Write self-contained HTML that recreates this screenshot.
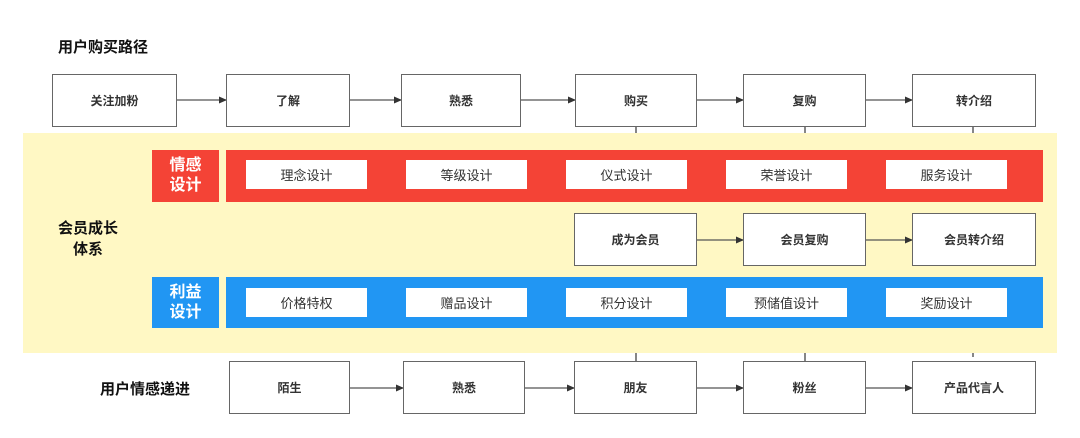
<!DOCTYPE html>
<html><head><meta charset="utf-8"><style>
body{margin:0;width:1080px;height:438px;background:#fff;position:relative;overflow:hidden;font-family:"Liberation Sans","Noto Sans CJK SC",sans-serif;}
.a{position:absolute;box-sizing:border-box;display:flex;align-items:center;justify-content:center;}
.b{border:1.5px solid #666;background:#fff;font-size:12px;font-weight:bold;color:#333;}
.w{background:#fff;font-size:13px;color:#333;}
.t{font-weight:bold;color:#111;font-size:15px;}
.lab{color:#fff;font-weight:bold;font-size:16px;line-height:20px;text-align:center;}
svg{position:absolute;left:0;top:0;}
</style></head><body>
<div class="a" style="left:23px;top:133px;width:1034px;height:220px;background:#fff8c4"></div>
<div class="a t" style="left:58px;top:36px;">用户购买路径</div>
<div class="a t" style="left:50px;top:218px;width:76px;text-align:center;line-height:21px;">会员成长<br>体系</div>
<div class="a t" style="left:100px;top:378px;">用户情感递进</div>

<div class="a lab" style="left:152px;top:150px;width:67px;height:52px;background:#f44336">情感<br>设计</div>
<div class="a" style="left:226px;top:150px;width:817px;height:52px;background:#f44336"></div>
<div class="a lab" style="left:152px;top:277px;width:67px;height:51px;background:#2196f3">利益<br>设计</div>
<div class="a" style="left:226px;top:277px;width:817px;height:51px;background:#2196f3"></div>

<div class="a w" style="left:246px;top:160px;width:121px;height:29px">理念设计</div>
<div class="a w" style="left:406px;top:160px;width:121px;height:29px">等级设计</div>
<div class="a w" style="left:566px;top:160px;width:121px;height:29px">仪式设计</div>
<div class="a w" style="left:726px;top:160px;width:121px;height:29px">荣誉设计</div>
<div class="a w" style="left:886px;top:160px;width:121px;height:29px">服务设计</div>

<div class="a w" style="left:246px;top:288px;width:121px;height:29px">价格特权</div>
<div class="a w" style="left:406px;top:288px;width:121px;height:29px">赠品设计</div>
<div class="a w" style="left:566px;top:288px;width:121px;height:29px">积分设计</div>
<div class="a w" style="left:726px;top:288px;width:121px;height:29px">预储值设计</div>
<div class="a w" style="left:886px;top:288px;width:121px;height:29px">奖励设计</div>

<svg width="1080" height="438">
<defs><marker id="m" markerWidth="8" markerHeight="8" refX="7" refY="4" orient="auto" markerUnits="userSpaceOnUse"><path d="M0,0.5 L8,4 L0,7.5z" fill="#333"/></marker></defs>
<g stroke="#555" stroke-width="1.3" fill="none" marker-end="url(#m)">
<line x1="177" y1="100" x2="226" y2="100"/>
<line x1="350" y1="100" x2="401" y2="100"/>
<line x1="521" y1="100" x2="575" y2="100"/>
<line x1="697" y1="100" x2="743" y2="100"/>
<line x1="866" y1="100" x2="912" y2="100"/>
<line x1="697" y1="240" x2="743" y2="240"/>
<line x1="866" y1="240" x2="912" y2="240"/>
<line x1="350" y1="388" x2="403" y2="388"/>
<line x1="525" y1="388" x2="574" y2="388"/>
<line x1="697" y1="388" x2="743" y2="388"/>
<line x1="866" y1="388" x2="912" y2="388"/>
</g>
<g stroke="#444" stroke-width="1.3">
<line x1="636" y1="127" x2="636" y2="133"/><line x1="805" y1="127" x2="805" y2="133"/><line x1="973" y1="127" x2="973" y2="133"/>
<line x1="636" y1="353" x2="636" y2="361"/><line x1="805" y1="353" x2="805" y2="361"/><line x1="973" y1="353" x2="973" y2="357"/>
</g>
</svg>

<div class="a b" style="left:52px;top:74px;width:125px;height:53px">关注加粉</div>
<div class="a b" style="left:226px;top:74px;width:124px;height:53px">了解</div>
<div class="a b" style="left:401px;top:74px;width:120px;height:53px">熟悉</div>
<div class="a b" style="left:575px;top:74px;width:122px;height:53px">购买</div>
<div class="a b" style="left:743px;top:74px;width:123px;height:53px">复购</div>
<div class="a b" style="left:912px;top:74px;width:124px;height:53px">转介绍</div>

<div class="a b" style="left:574px;top:213px;width:123px;height:53px">成为会员</div>
<div class="a b" style="left:743px;top:213px;width:123px;height:53px">会员复购</div>
<div class="a b" style="left:912px;top:213px;width:124px;height:53px">会员转介绍</div>

<div class="a b" style="left:229px;top:361px;width:121px;height:53px">陌生</div>
<div class="a b" style="left:403px;top:361px;width:122px;height:53px">熟悉</div>
<div class="a b" style="left:574px;top:361px;width:123px;height:53px">朋友</div>
<div class="a b" style="left:743px;top:361px;width:123px;height:53px">粉丝</div>
<div class="a b" style="left:912px;top:361px;width:124px;height:53px">产品代言人</div>
</body></html>
